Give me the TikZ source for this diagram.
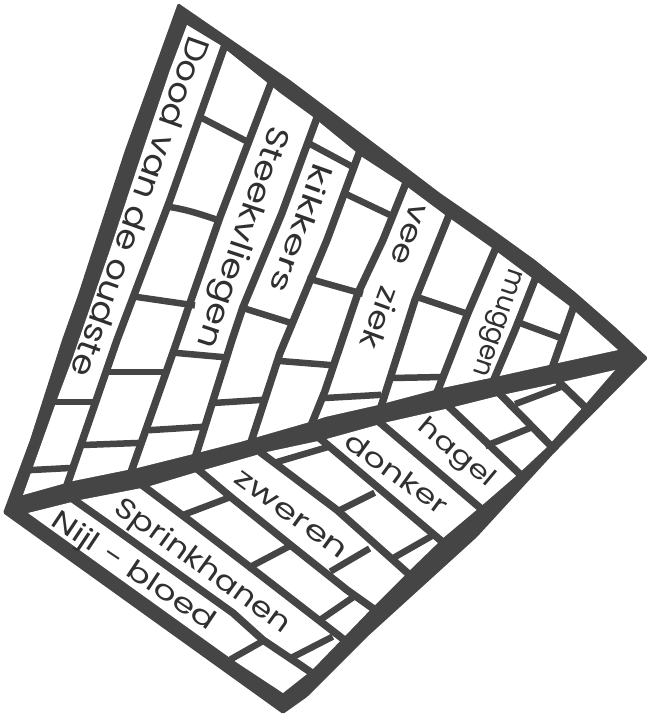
\documentclass[tikz,border=0pt]{standalone}
\usepackage{fontspec}
\usepackage{graphicx}
\setmainfont{Poppins}
\definecolor{ink}{HTML}{454545}
\definecolor{pen}{HTML}{303030}
\newcommand\lbl[7]{\node[handtext,rotate=#4,font=\fontsize{#6}{#6}\selectfont] (#1) at (#2,#3) {\resizebox{#5pt}{\height}{#7}};}
\tikzset{
  handtext/.style={inner sep=0pt,text=pen},
  wall/.style={draw=ink,line width=7.5pt,line cap=butt,line join=round},
  brick/.style={draw=ink,line width=6.5pt,line cap=butt,line join=round,shorten >=-3pt,shorten <=-3pt},
}
\begin{document}
\begin{tikzpicture}[x=1pt,y=-1pt]
\useasboundingbox (0,0) rectangle (649,716);
% dark outer shape
\fill[ink,rounded corners=1.5pt] (178,3) -- (290,80) -- (382,149) -- (440,193) -- (492,229) -- (535,260) -- (575,292) -- (615,327) -- (648,358)
  -- (555,452) -- (477,537) -- (367,637) -- (307,697) -- (283,714) -- (3,513)
  -- (30,440) -- (62,340) -- (78,295) -- (125,150) -- cycle;
% upper white field
\fill[white] (187,25) -- (220,45) -- (280,93) -- (313,117) -- (362,157) -- (402,183) -- (445,215) -- (492,248)
  -- (532,278) -- (568,305) -- (618,350)
  -- (558,363) -- (495,377) -- (442,388) -- (378,405) -- (325,417) -- (313,421) -- (240,442) -- (197,453)
  -- (137,468) -- (73,481) -- (23,495)
  -- (33,467) -- (58,397) -- (73,357) -- (110,250) -- (143,150) -- (170,70) -- cycle;
% lower white field
\fill[white] (28,513) -- (80,500) -- (147,487) -- (197,472) -- (267,452) -- (323,440) -- (388,422) -- (450,408)
  -- (502,395) -- (558,383) -- (615,370)
  -- (583,407) -- (547,447) -- (517,475) -- (480,507) -- (443,538) -- (410,570) -- (373,607) -- (343,638)
  -- (312,670) -- (283,693) -- (233,660) -- cycle;
% long lines, upper field
\draw[wall] (226,42) -- (170,200) -- (117,340) -- (66,488);
\draw[wall] (273,78) -- (220,217) -- (190,303) -- (175,347) -- (130,475);
\draw[wall] (318,115) -- (282,213) -- (243,307) -- (232,340) -- (195,458);
\draw[wall] (361,148) -- (327,240) -- (280,353) -- (251,442);
\draw[wall] (408,178) -- (383,240) -- (358,293) -- (325,391) -- (310,428);
\draw[wall] (452,208) -- (415,300) -- (380,410);
\draw[wall] (498,243) -- (468,313) -- (436,395);
\draw[wall] (538,272) -- (515,330) -- (492,384);
\draw[wall] (576,300) -- (550,374);
% cross lines, upper field
\draw[brick] (200,117) -- (248,142);
\draw[brick] (170,207) .. controls (185,209) and (200,214) .. (218,220);
\draw[brick] (137,297) -- (192,305);
\draw[brick] (110,372) -- (163,372);
\draw[brick] (83,445) -- (137,443);
\draw[brick] (57,402) -- (93,402);
\draw[brick] (32,470) -- (70,468);
\draw[brick] (177,353) -- (222,357);
\draw[brick] (152,430) -- (200,427);
\draw[brick] (243,308) -- (288,322);
\draw[brick] (213,403) -- (260,400);
\draw[brick] (312,145) -- (353,167);
\draw[brick] (280,361) -- (330,365);
\draw[brick] (348,195) -- (390,215);
\draw[brick] (310,279) -- (360,293);
\draw[brick] (325,398) -- (378,395);
\draw[brick] (420,298) -- (465,313);
\draw[brick] (392,378) -- (442,377);
\draw[brick] (520,323) -- (558,337);
% long lines, lower field
\draw[wall] (70,497) -- (107,523) -- (170,568) -- (233,613) -- (263,640) -- (318,677);
\draw[wall] (138,482) -- (190,521) -- (250,567) -- (347,642);
\draw[wall] (195,467) -- (232,498) -- (293,547) -- (347,590) -- (378,612);
\draw[wall] (260,452) -- (337,510) -- (412,577);
\draw[wall] (317,436) -- (445,544);
\draw[wall] (378,421) -- (485,512);
\draw[wall] (445,403) -- (524,478);
\draw[wall] (498,392) -- (556,451);
\draw[wall] (558,381) -- (587,409);
% cross lines, lower field
\draw[brick] (233,658) -- (263,641);
\draw[brick] (293,657) -- (330,638);
\draw[brick] (183,515) -- (228,498);
\draw[brick] (250,567) -- (288,547);
\draw[brick] (320,620) -- (352,598);
\draw[brick] (333,570) -- (367,550);
\draw[brick] (277,462) -- (328,447);
\draw[brick] (340,510) -- (372,494);
\draw[brick] (395,557) -- (430,537);
\draw[brick] (488,445) -- (530,428);
\draw[brick] (518,403) -- (558,388);
% labels
\lbl{t1}{141}{207}{-109.5}{358}{32}{Dood van de oudste}
\lbl{t2}{241}{237}{-108.3}{232}{31}{Steekvliegen}
\lbl{t3}{302}{229}{-109.7}{135}{28}{kikkers}
\lbl{t4}{396}{277}{-110}{152}{29}{vee\hspace{0.7em}ziek}
\lbl{t5}{495}{322}{-108.8}{112}{27}{muggen}
\lbl{t6}{456}{454}{-40}{92}{25}{hagel}
\lbl{t7}{397}{473}{-36}{120}{26}{donker}
\lbl{t8}{291}{515}{-36}{133}{27}{zweren}
\lbl{t9}{202}{567}{-35.9}{210}{28}{Sprinkhanen}
\lbl{t10}{133}{572}{-33.8}{192}{27}{Nijl - bloed}
\end{tikzpicture}
\end{document}
